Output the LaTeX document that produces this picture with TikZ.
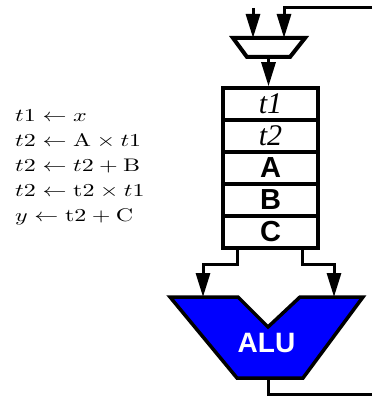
\documentclass[tikz,border=0pt]{standalone}
\usepackage{fontspec}
\usepackage{graphicx}
\newfontfamily\regsans{Liberation Sans}
\newfontfamily\regserif{Liberation Serif}
\usetikzlibrary{arrows.meta}
\newcommand{\codeline}[1]{\scalebox{2.4}[1.82]{$#1$}}
\begin{document}
\begin{tikzpicture}[x=1pt,y=-1pt,
  wire/.style={line width=3pt},
  tip/.style={-{Triangle[length=24pt,width=14pt]}},
  cell/.style={draw,line width=3.5pt,minimum width=95pt,minimum height=32pt,inner sep=0pt,
    text height=19.5pt,text depth=0.5pt},
  itlab/.style={font=\regserif\itshape\fontsize{30}{32}\selectfont},
  sflab/.style={font=\regsans\bfseries\fontsize{29}{32}\selectfont},
  code/.style={anchor=base west,inner sep=0pt}]
\useasboundingbox (0,0) rectangle (372,396);
% program text
\node[code] (c1) at (15,121.5) {\codeline{t1 \leftarrow x}};
\node[code] (c2) at (15,146.5) {\codeline{t2 \leftarrow \mathrm{A} \times t1}};
\node[code] (c3) at (15,171.5) {\codeline{t2 \leftarrow t2 + \mathrm{B}}};
\node[code] (c4) at (15,196.5) {\codeline{t2 \leftarrow \mathrm{t2} \times t1}};
\node[code] (c5) at (15,221.5) {\codeline{y \leftarrow \mathrm{t2} + \mathrm{C}}};
% mux
\draw[line width=4pt,fill=white] (233,38) -- (305,38) -- (290,57) -- (247,57) -- cycle;
\coordinate (muxL) at (253,38);
\coordinate (muxR) at (284,38);
\coordinate (muxO) at (268.5,57);
\coordinate (inL) at (253,8);
\coordinate (bend) at (284,8);
\coordinate (feed) at (372,8);
% register file
\node[cell,itlab] (r1) at (270.5,104) {t1};
\node[cell,itlab] (r2) at (270.5,136) {t2};
\node[cell,sflab] (r3) at (270.5,168) {A};
\node[cell,sflab] (r4) at (270.5,200) {B};
\node[cell,sflab] (r5) at (270.5,232) {C};
% ALU
\draw[line width=3.5pt,fill={rgb,255:red,0;green,0;blue,255}]
  (170,297) -- (238,297) -- (268,327) -- (300,297) -- (363,297) -- (303,378) -- (237,378) -- cycle;
\node[anchor=base,inner sep=0pt,text=white,font=\regsans\bfseries\fontsize{28}{30}\selectfont] (alu) at (266.5,352) {ALU};
\coordinate (o1) at (237,248);
\coordinate (o2) at (302,248);
\coordinate (aluA) at (203,297);
\coordinate (aluB) at (334,297);
\coordinate (aluO) at (268,378);
\coordinate (outE) at (372,394);
% wires
\draw[wire,tip] (inL) -- (muxL);
\draw[wire,tip] (feed) -- (bend) -- (muxR);
\draw[wire,tip] (muxO) -- (muxO |- r1.north);
\draw[wire,tip] (o1) -- (237,264) -- (aluA |- 0,264) -- (aluA);
\draw[wire,tip] (o2) -- (302,264) -- (aluB |- 0,264) -- (aluB);
\draw[wire] (aluO) -- (aluO |- outE) -- (outE);
\end{tikzpicture}
\end{document}
